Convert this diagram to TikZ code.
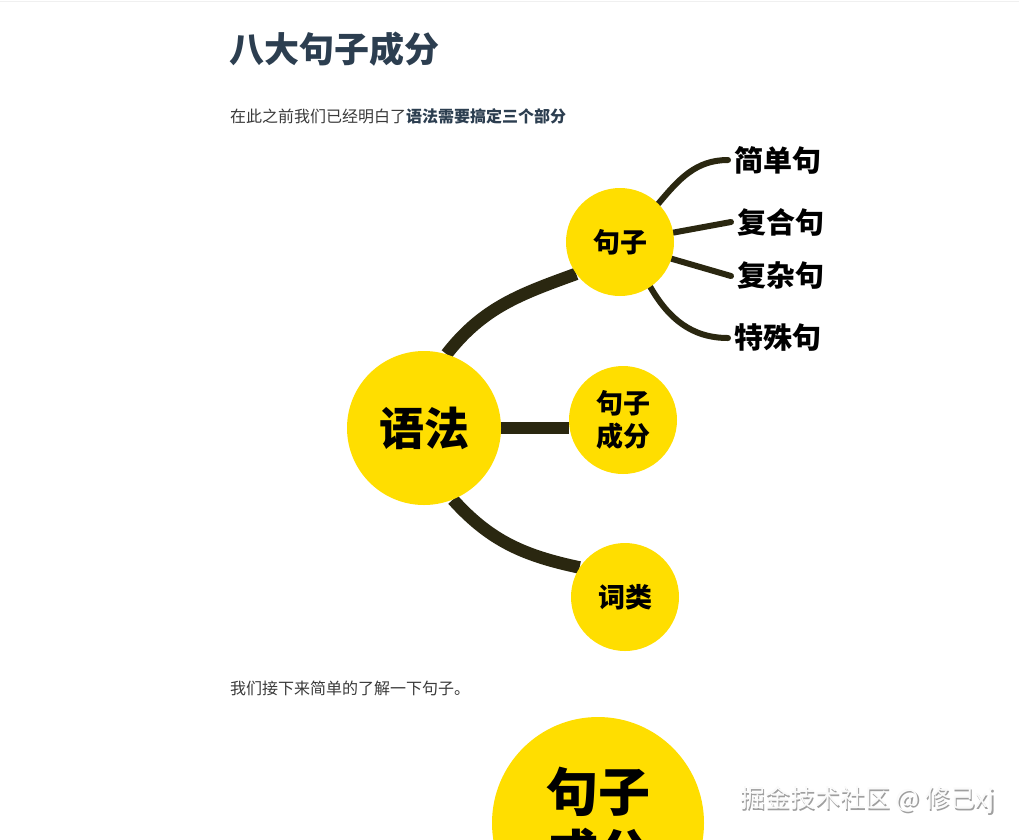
\documentclass[tikz,border=0pt]{standalone}
\usepackage{fontspec}
\setmainfont{Noto Sans CJK SC}
\definecolor{ballyellow}{HTML}{FFDE00}
\definecolor{branch}{HTML}{2A2710}
\definecolor{heading}{HTML}{2C3E50}
\definecolor{plain}{HTML}{3A3A3A}
\pgfdeclarelayer{paper}
\pgfdeclarelayer{bg}
\pgfsetlayers{paper,bg,main}
\begin{document}
\begin{tikzpicture}[x=1pt, y=1pt,
	ball/.style={circle, fill=ballyellow, align=center, inner sep=0pt},
	leaf/.style={anchor=west, inner sep=6pt, font=\bfseries\fontsize{29}{29}\selectfont},
	trunk/.style={draw=branch, line width=12.5pt},
	twig/.style={draw=branch, line width=6pt, line cap=round},
	para/.style={anchor=west, inner sep=0pt, text=plain, font=\fontsize{16}{18}\selectfont}]
	\useasboundingbox (0,0) rectangle (1019,-839);
	\clip (0,0) rectangle (1019,-839);
	\begin{pgfonlayer}{paper}
		\fill[white] (0,0) rectangle (1019,-839);
		\draw[gray!12] (0,-1.5) -- (1019,-1.5);
	\end{pgfonlayer}
	
	% Text
	\node[anchor=west, inner sep=0pt, text=heading, font=\bfseries\fontsize{35}{40}\selectfont] (title) at (229,-49) {八大句子成分};
	\node[para] (intro) at (230,-116) {在此之前我们已经明白了\textcolor{heading}{\bfseries 语法需要搞定三个部分}};
	\node[para] (next) at (230,-688) {我们接下来简单的了解一下句子。};
	
	% Grammar
	\node[ball, minimum size=154pt, font=\bfseries\fontsize{45}{45}\selectfont] (yufa) at (424,-428) {语法};
	\node[ball, minimum size=108pt, font=\bfseries\fontsize{27}{27}\selectfont] (juzi) at (620,-242) {句子};
	\node[ball, minimum size=108pt, font=\bfseries\fontsize{27}{33}\selectfont] (chengfen) at (623,-420) {句子\\成分};
	\node[ball, minimum size=108pt, font=\bfseries\fontsize{27}{27}\selectfont] (cilei) at (625,-597) {词类};
	
	% Sentence types
	\node[leaf] (jiandan) at (728,-160) {简单句};
	\node[leaf] (fuhe) at (731,-222) {复合句};
	\node[leaf] (fuza) at (731,-276) {复杂句};
	\node[leaf] (teshu) at (728,-338) {特殊句};
	
	\begin{pgfonlayer}{bg}
		\draw[trunk] (yufa.73) to[out=52, in=200] (juzi.216);
		\draw[trunk] (yufa.east) -- (yufa.east -| chengfen.west);
		\draw[trunk] (yufa.-68) to[out=-48, in=168] (cilei.147);
		\draw[twig] (juzi.45) to[out=50, in=180] (jiandan.west);
		\draw[twig] (juzi.10) -- (fuhe.west);
		\draw[twig] (juzi.-18) -- (fuza.west);
		\draw[twig] (juzi.-56) to[out=-60, in=180] (teshu.west);
	\end{pgfonlayer}
	
	% Next picture
	\node[ball, minimum size=212pt, font=\bfseries\fontsize{52}{62}\selectfont] (big) at (598,-823) {句子\\成分};
	\node[anchor=west, inner sep=0pt, text=gray!75, font=\fontsize{25}{25}\selectfont] (markshade) at (741.5,-801.5) {掘金技术社区 @ 修己xj};
	\node[anchor=west, inner sep=0pt, text=white!96!gray, font=\fontsize{25}{25}\selectfont] (mark) at (740,-800) {掘金技术社区 @ 修己xj};
\end{tikzpicture}
\end{document}
